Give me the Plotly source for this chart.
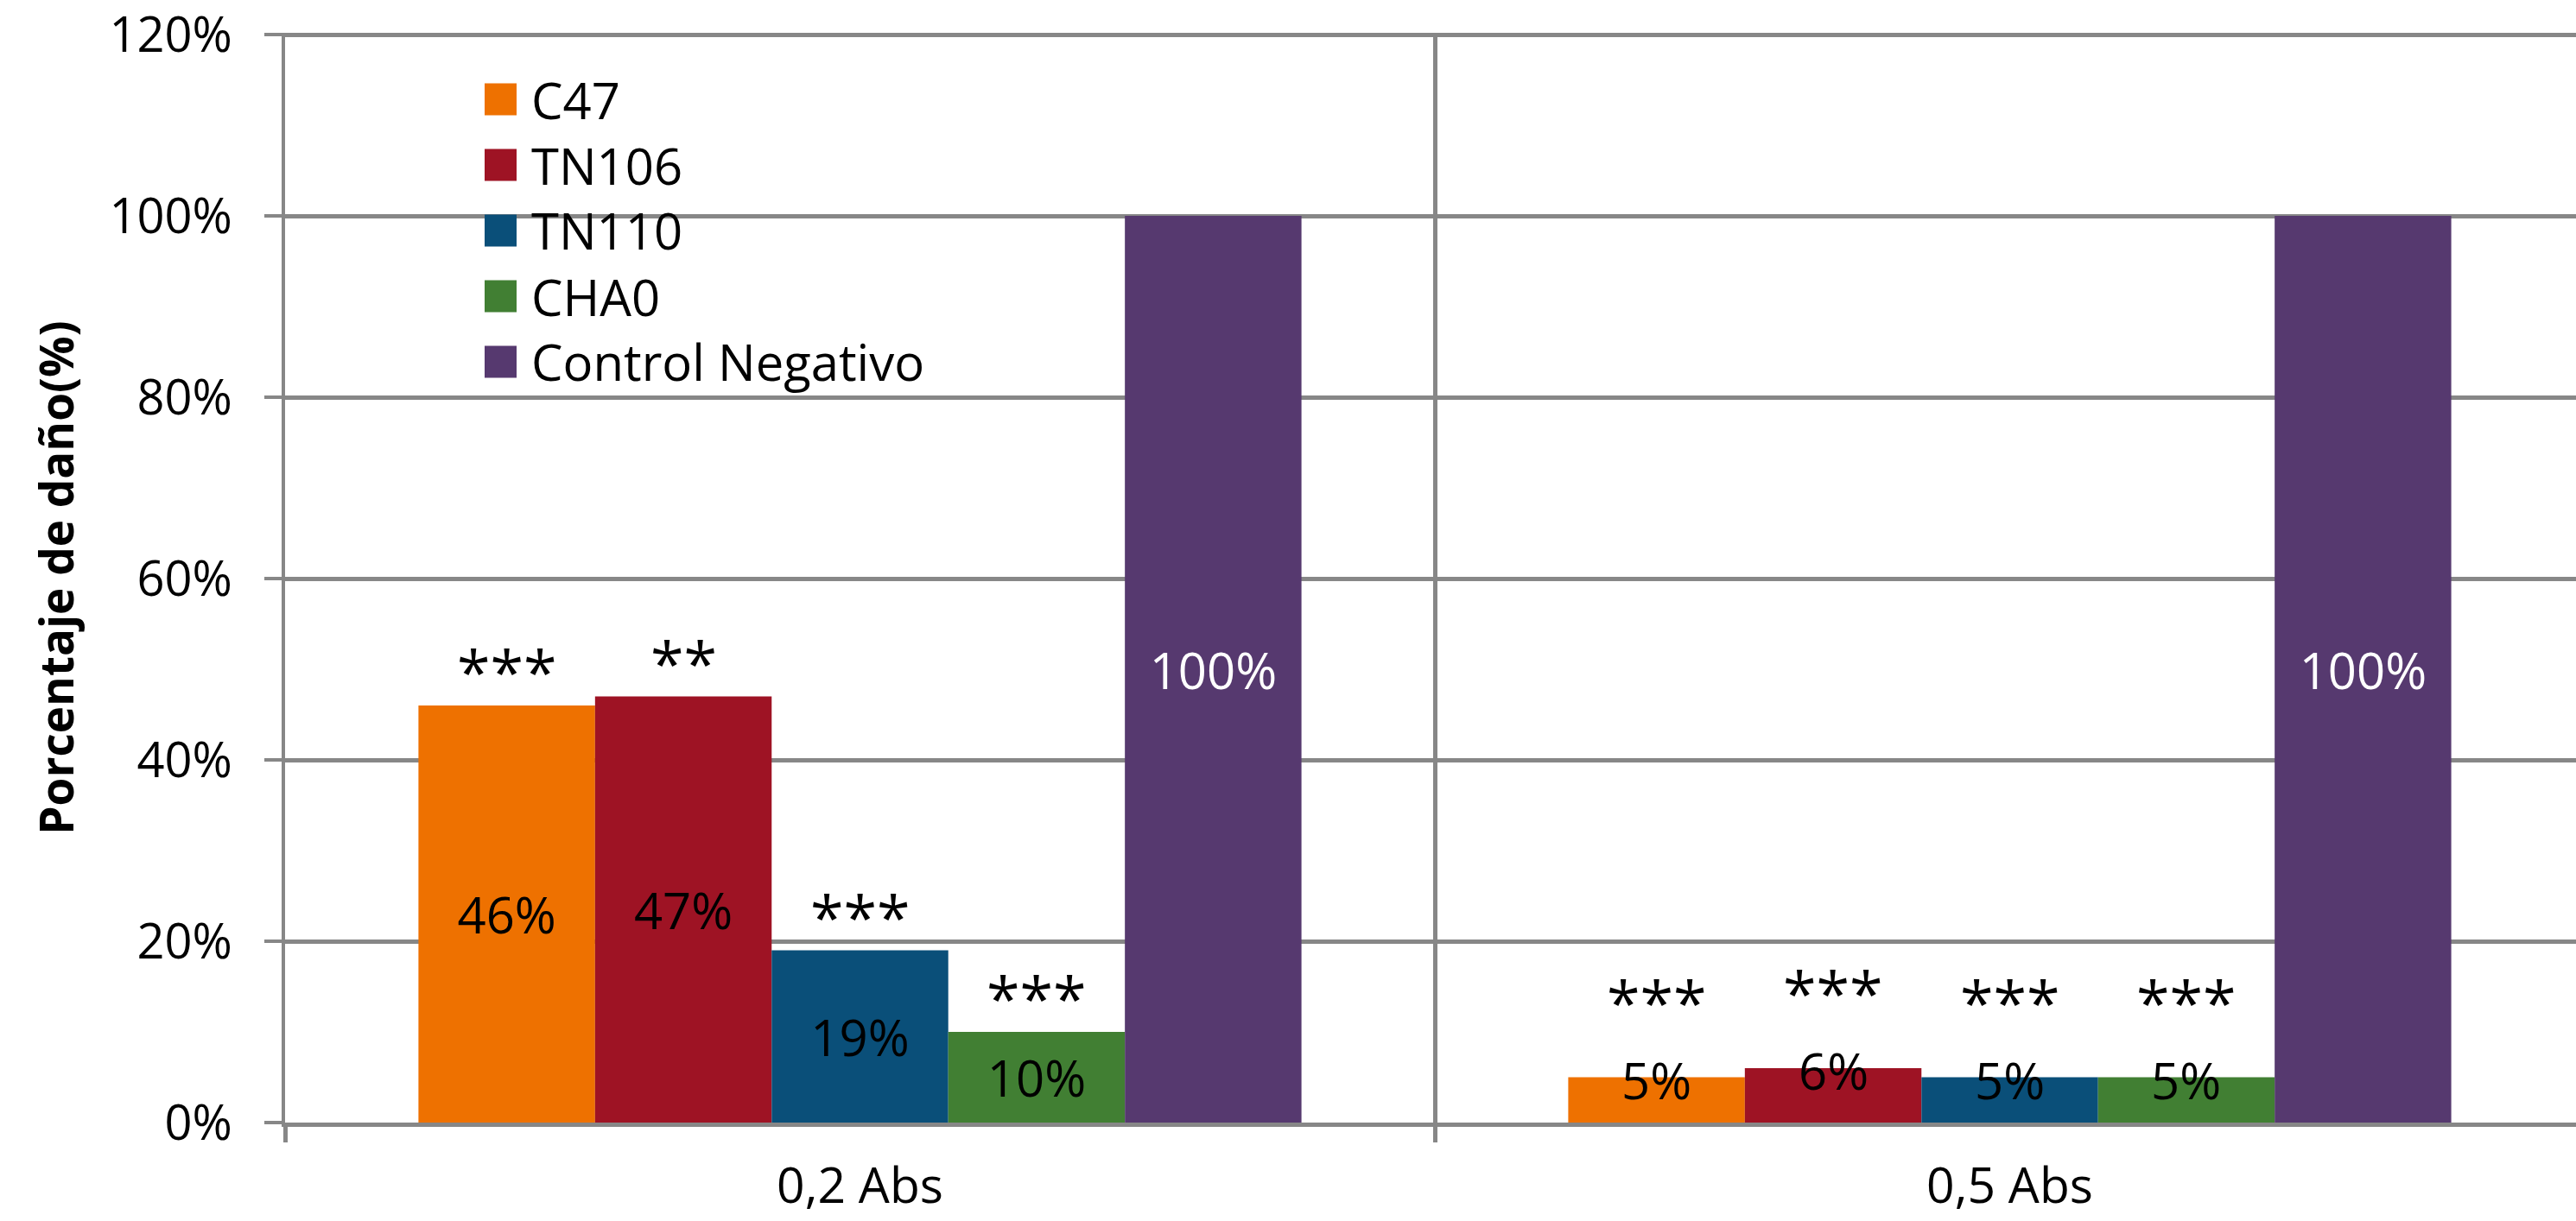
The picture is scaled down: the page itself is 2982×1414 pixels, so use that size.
import plotly.graph_objects as go

# ---- data -----------------------------------------------------------------
categories = ["0,2 Abs", "0,5 Abs"]
series_names = ["C47", "TN106", "TN110", "CHA0", "Control Negativo"]

c47 = [0.46, 0.05]
tn106 = [0.47, 0.06]
tn110 = [0.19, 0.05]
cha0 = [0.10, 0.05]
control_negativo = [1.00, 1.00]

# significance marks drawn above each bar
c47_sig = ["***", "***"]
tn106_sig = ["**", "***"]
tn110_sig = ["***", "***"]
cha0_sig = ["***", "***"]
control_sig = ["", ""]

y_tick_values = [0, 0.2, 0.4, 0.6, 0.8, 1.0, 1.2]

# ---- styling --------------------------------------------------------------
series_values = [c47, tn106, tn110, cha0, control_negativo]
series_sig = [c47_sig, tn106_sig, tn110_sig, cha0_sig, control_sig]
bar_colors = ["#EE7100", "#9E1324", "#0A4F79", "#417F33", "#56396F"]
label_colors = ["black", "black", "black", "black", "white"]

FONT = "Open Sans"
FS = 58          # general text size
FS_TICK = 56     # axis tick labels
FS_SIG = 70      # asterisk size
GRID = "#878787"
BARGAP = 0.232
W, H = 2982, 1414
Y_MAX = 1.202    # a hair above 120 % so the top gridline is kept
M_L, M_R, M_T, M_B = 330, 0, 38, 114

fig = go.Figure()

n = len(series_names)
slot = (1 - BARGAP) / n  # width of one bar in category units

annotations = []
for si, (name, vals, sig) in enumerate(zip(series_names, series_values, series_sig)):
    inside_text = [f"{v:.0%}" if v >= 0.1 else "" for v in vals]
    fig.add_trace(go.Bar(
        name=name,
        x=categories,
        y=vals,
        marker=dict(color=bar_colors[si], line=dict(width=0)),
        text=inside_text,
        textposition="inside",
        insidetextanchor="middle",
        constraintext="none",
        textfont=dict(family=FONT, size=FS, color=label_colors[si]),
        showlegend=False,
        hovertemplate="%{x}: %{y:.0%}<extra>" + name + "</extra>",
    ))
    for ci, v in enumerate(vals):
        xpos = ci + (si - (n - 1) / 2) * slot
        small = v < 0.1
        if small:
            # value label of short bars sits across the top edge
            annotations.append(dict(
                x=xpos, y=v, xref="x", yref="y", text=f"{v:.0%}",
                showarrow=False, yanchor="bottom", yshift=-44,
                font=dict(family=FONT, size=FS, color=label_colors[si]),
            ))
        if sig[ci]:
            annotations.append(dict(
                x=xpos, y=v, xref="x", yref="y", text=sig[ci],
                showarrow=False, yanchor="bottom", yshift=38 if small else -10,
                font=dict(family=FONT, size=FS_SIG, color="black"),
            ))

# ---- legend with large swatches -------------------------------------------
plot_w = W - M_L - M_R
plot_h = H - M_T - M_B
leg_x_px = 561 - M_L      # left edge of swatches, px from plot left
leg_y0_px = 1300 - 115    # first row centre, px above plot bottom
leg_step_px = 76
sw = 37
shapes = []
for si, name in enumerate(series_names):
    yc = (leg_y0_px - si * leg_step_px) / plot_h
    xl = leg_x_px / plot_w
    shapes.append(dict(
        type="rect", xref="paper", yref="paper",
        xsizemode="pixel", ysizemode="pixel",
        xanchor=xl, yanchor=yc,
        x0=0, x1=sw, y0=-sw / 2, y1=sw / 2,
        fillcolor=bar_colors[si], line=dict(width=0),
    ))
    annotations.append(dict(
        x=(leg_x_px + sw + 15) / plot_w, y=yc, xref="paper", yref="paper",
        text=name, showarrow=False, xanchor="left", yanchor="middle",
        font=dict(family=FONT, size=FS, color="black"),
    ))

fig.update_layout(
    width=W, height=H,
    margin=dict(l=M_L, r=M_R, t=M_T, b=M_B, pad=0),
    paper_bgcolor="white", plot_bgcolor="white",
    barmode="group", bargap=BARGAP, bargroupgap=0,
    font=dict(family=FONT, size=FS, color="black"),
    annotations=annotations,
    shapes=shapes,
    showlegend=False,
)

fig.update_xaxes(
    type="category",
    range=[-0.5, 1.5 - 10 / 1331],
    automargin=False,
    tickson="boundaries",
    ticks="outside", ticklen=18, tickwidth=5, tickcolor=GRID,
    showgrid=True, gridcolor=GRID, gridwidth=5,
    showline=True, linecolor=GRID, linewidth=5,
    tickfont=dict(family=FONT, size=57, color="black"),
    ticklabelstandoff=20,
    ticklabeloverflow="allow",
)

fig.update_yaxes(
    range=[0, Y_MAX],
    automargin=False,
    tickvals=y_tick_values,
    tickformat=".0%",
    ticks="outside", ticklen=20, tickwidth=4, tickcolor=GRID,
    showgrid=True, gridcolor=GRID, gridwidth=5,
    showline=True, linecolor=GRID, linewidth=4,
    zeroline=False,
    tickfont=dict(family=FONT, size=FS_TICK, color="black"),
    ticklabelstandoff=26,
    ticklabeloverflow="allow",
    title=dict(
        text="Porcentaje de daño(%)",
        font=dict(family=FONT, size=53, color="black", weight="bold"),
        standoff=25,
    ),
)

fig.write_html("out.html")
